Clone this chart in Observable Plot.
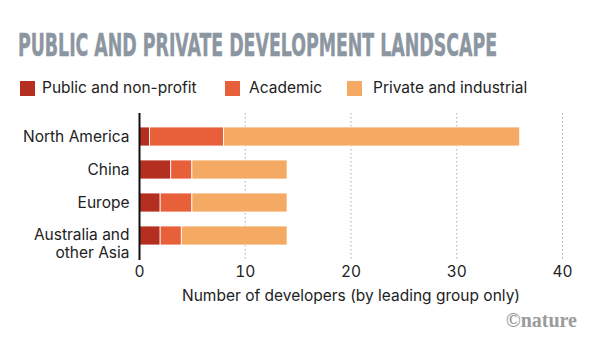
<!DOCTYPE html>
<html><head><meta charset="utf-8">
<script src="https://cdn.jsdelivr.net/npm/d3@7"></script>
<script src="https://cdn.jsdelivr.net/npm/@observablehq/plot@0.6"></script>
<style>
body{margin:0;background:#fff;width:613px;height:342px;overflow:hidden;position:relative;font-family:Inter,sans-serif;color:#222;}
#title{position:absolute;left:18px;top:29px;font-family:"DejaVu Sans Condensed","DejaVu Sans",sans-serif;font-stretch:condensed;font-weight:bold;font-size:32px;line-height:32px;color:#8c96a1;-webkit-text-stroke:0.5px #8c96a1;white-space:nowrap;transform-origin:left top;}
.sw{position:absolute;top:81px;width:15px;height:15px;}
.lt{position:absolute;top:79px;font-size:15.5px;line-height:18px;white-space:nowrap;}
#chart{position:absolute;left:0;top:100px;}
#credit{position:absolute;right:36px;top:309px;font-family:"Liberation Serif",serif;font-weight:bold;font-size:20px;color:#9b9b9b;}
</style></head>
<body>
<div id="title">PUBLIC AND PRIVATE DEVELOPMENT LANDSCAPE</div>
<div id="legend"></div>
<div id="chart"></div>
<div id="credit">©nature</div>
<script>
const regions = ["North America", "China", "Europe", "Australia and\nother Asia"];
const series = ["Public and non-profit", "Academic", "Private and industrial"];
const colors = ["#b52f20", "#e8603a", "#f4aa62"];
const publicVals = [1, 3, 2, 2];
const academicVals = [7, 2, 3, 2];
const privateVals = [28, 9, 9, 10];
const xTicks = [0, 10, 20, 30, 40];
const gridTicks = [10, 20, 30, 40];

const valueSets = [publicVals, academicVals, privateVals];
const data = [];
regions.forEach((r, i) => series.forEach((s, j) => data.push({region: r, series: s, value: valueSets[j][i]})));

// title width fit
const t = document.getElementById("title");
const tw = t.getBoundingClientRect().width;
t.style.transform = `scaleX(${479 / tw})`;

// legend
const lg = document.getElementById("legend");
const swX = [20, 225, 347], txX = [42, 249, 373];
series.forEach((s, j) => {
  const sq = document.createElement("div"); sq.className = "sw"; sq.style.left = swX[j] + "px"; sq.style.background = colors[j]; lg.appendChild(sq);
  const tx = document.createElement("div"); tx.className = "lt"; tx.style.left = txX[j] + "px"; tx.textContent = s; lg.appendChild(tx);
});

const singleLine = regions.filter(r => !r.includes("\n"));
const multiLine = regions.filter(r => r.includes("\n"));

const plot = Plot.plot({
  width: 613,
  height: 242,
  marginLeft: 139,
  marginRight: 51,
  marginTop: 13,
  marginBottom: 82,
  style: {fontFamily: "Inter, sans-serif", fontSize: "15.5px", color: "#222", background: "transparent"},
  x: {domain: [0, 40]},
  y: {domain: regions, padding: 0.42},
  color: {domain: series, range: colors},
  marks: [
    Plot.ruleX(gridTicks, {stroke: "#aaa", strokeDasharray: "1.5,2.5", strokeWidth: 1}),
    Plot.barX(data, Plot.stackX({x: "value", y: "region", fill: "series", order: series, stroke: "white", strokeWidth: 0.8})),
    Plot.ruleX([0], {stroke: "#111", strokeWidth: 2}),
    Plot.axisX({ticks: xTicks, tickSize: 0, tickPadding: 5, fontSize: 15.5, label: "Number of developers (by leading group only)", labelAnchor: "center", labelArrow: "none", labelOffset: 40}),
    Plot.axisY(singleLine, {tickSize: 0, tickPadding: 10, fontSize: 15.5, label: null}),
    Plot.axisY(multiLine, {tickSize: 0, tickPadding: 10, fontSize: 15.5, lineHeight: 1.17, dy: 7, label: null})
  ]
});
document.getElementById("chart").appendChild(plot);
</script>
</body></html>
